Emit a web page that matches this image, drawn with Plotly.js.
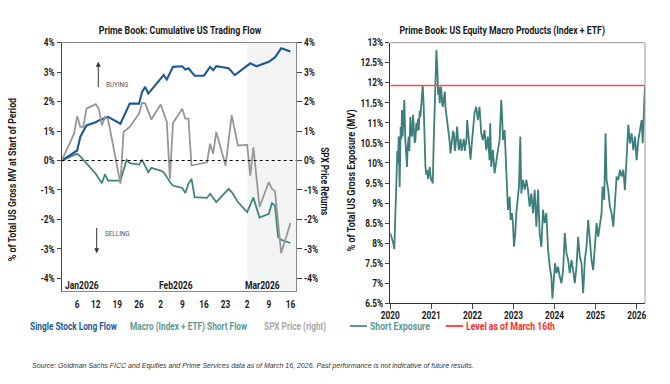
<!DOCTYPE html>
<html><head><meta charset="utf-8">
<script src="https://cdn.plot.ly/plotly-3.0.1.min.js"></script>
<style>html,body{margin:0;padding:0;background:#fff}#chart{width:670px;height:384px}</style>
</head><body><div id="chart"></div>
<script>
// ---------- Left chart: cumulative US trading flow (%) ----------
const blueDates = ['2026-01-01','2026-01-06','2026-01-07','2026-01-09','2026-01-12','2026-01-13','2026-01-16','2026-01-20','2026-01-23','2026-01-26','2026-01-27','2026-01-28','2026-01-29','2026-02-02','2026-02-03','2026-02-04','2026-02-06','2026-02-09','2026-02-10','2026-02-11','2026-02-13','2026-02-16','2026-02-18','2026-02-19','2026-02-20','2026-02-24','2026-02-26','2026-03-03','2026-03-05','2026-03-09','2026-03-11','2026-03-13','2026-03-16'];
const blueVals  = [0,0.34,0.8,1.19,1.3,1.36,1.48,1.25,1.93,1.93,2.33,2.5,2.27,2.8,2.9,2.75,3.18,3.2,3.09,3.13,2.88,2.88,3.18,3.07,3.2,3.13,2.9,3.3,3.2,3.35,3.5,3.81,3.7];

const tealDates = ['2026-01-01','2026-01-06','2026-01-07','2026-01-09','2026-01-12','2026-01-14','2026-01-15','2026-01-16','2026-01-20','2026-01-22','2026-01-23','2026-01-26','2026-01-27','2026-01-29','2026-01-30','2026-02-02','2026-02-03','2026-02-05','2026-02-06','2026-02-09','2026-02-10','2026-02-11','2026-02-12','2026-02-13','2026-02-17','2026-02-18','2026-02-20','2026-02-24','2026-02-25','2026-02-27','2026-03-02','2026-03-04','2026-03-06','2026-03-09','2026-03-10','2026-03-11','2026-03-12','2026-03-13','2026-03-16'];
const tealVals  = [0,0.23,0.14,-0.11,-0.45,-0.77,-0.47,-0.68,-0.68,0.02,-0.09,-0.14,0.02,-0.4,-0.25,-0.34,-0.4,-0.73,-0.85,-0.93,-1.1,-0.79,-0.62,-1.24,-1.27,-1.13,-1.41,-0.96,-1.07,-1.41,-1.75,-1.26,-1.94,-1.81,-1.45,-1.53,-2.6,-2.69,-2.8];

const grayDates = ['2026-01-01','2026-01-05','2026-01-06','2026-01-07','2026-01-08','2026-01-09','2026-01-12','2026-01-13','2026-01-14','2026-01-15','2026-01-16','2026-01-20','2026-01-21','2026-01-23','2026-01-26','2026-01-27','2026-01-28','2026-01-30','2026-02-02','2026-02-04','2026-02-05','2026-02-06','2026-02-09','2026-02-10','2026-02-11','2026-02-12','2026-02-17','2026-02-18','2026-02-19','2026-02-20','2026-02-23','2026-02-25','2026-02-27','2026-03-02','2026-03-03','2026-03-04','2026-03-06','2026-03-09','2026-03-10','2026-03-11','2026-03-13','2026-03-16'];
const grayVals  = [0,0.91,1.5,1.14,1.14,1.76,1.91,1.76,1.19,1.48,1.4,-0.79,0.97,1.14,1.59,1.96,1.94,1.39,1.9,1.31,-0.62,1.27,1.76,1.42,1.42,-0.17,-0.06,0.57,0.23,0.97,-0.17,1.54,0.51,0.53,-0.51,0.45,-1.58,-0.73,-0.96,-1.04,-3.15,-2.12];

const leftTickVals  = ['2026-01-06','2026-01-12','2026-01-19','2026-01-26','2026-02-02','2026-02-09','2026-02-16','2026-02-23','2026-03-02','2026-03-09','2026-03-16'];
const leftTickText  = ['6','12','19','26','2','9','16','23','2','9','16'];
const monthLabels   = ['Jan2026','Feb2026','Mar2026'];
const monthDates    = ['2026-01-01','2026-02-01','2026-03-01'];
const pctVals = [-4,-3,-2,-1,0,1,2,3,4];
const pctText = ['-4%','-3%','-2%','-1%','0%','1%','2%','3%','4%'];
const shadeStart = '2026-03-02';

// ---------- Right chart: short exposure (%), x in decimal years ----------
const shortYears = [2020.000,2020.041,2020.073,2020.098,2020.122,2020.147,2020.171,2020.187,2020.204,2020.228,2020.252,2020.269,2020.285,2020.301,2020.318,2020.342,2020.366,2020.383,2020.407,2020.423,2020.448,2020.464,2020.488,2020.513,2020.529,2020.554,2020.570,2020.594,2020.611,2020.635,2020.651,2020.676,2020.692,2020.716,2020.733,2020.757,2020.773,2020.790,2020.814,2020.839,2020.855,2020.879,2020.896,2020.920,2020.936,2020.961,2020.977,2021.001,2021.018,2021.034,2021.058,2021.083,2021.099,2021.123,2021.148,2021.164,2021.180,2021.205,2021.229,2021.245,2021.262,2021.278,2021.303,2021.327,2021.343,2021.368,2021.384,2021.408,2021.425,2021.449,2021.465,2021.490,2021.506,2021.530,2021.547,2021.571,2021.587,2021.612,2021.628,2021.653,2021.669,2021.693,2021.710,2021.734,2021.750,2021.775,2021.791,2021.815,2021.832,2021.856,2021.872,2021.897,2021.913,2021.937,2021.954,2021.978,2021.994,2022.019,2022.035,2022.051,2022.092,2022.132,2022.173,2022.214,2022.255,2022.295,2022.336,2022.377,2022.417,2022.434,2022.458,2022.499,2022.540,2022.580,2022.621,2022.662,2022.702,2022.727,2022.743,2022.784,2022.825,2022.865,2022.906,2022.930,2022.963,2022.987,2023.012,2023.044,2023.069,2023.109,2023.134,2023.166,2023.191,2023.231,2023.272,2023.313,2023.353,2023.394,2023.435,2023.476,2023.516,2023.557,2023.598,2023.638,2023.679,2023.720,2023.760,2023.801,2023.842,2023.883,2023.923,2023.948,2023.980,2024.013,2024.046,2024.086,2024.127,2024.168,2024.209,2024.249,2024.290,2024.331,2024.371,2024.412,2024.453,2024.493,2024.534,2024.575,2024.615,2024.656,2024.697,2024.738,2024.778,2024.819,2024.860,2024.900,2024.941,2024.982,2025.023,2025.063,2025.104,2025.145,2025.169,2025.210,2025.242,2025.267,2025.307,2025.348,2025.389,2025.430,2025.470,2025.511,2025.552,2025.592,2025.633,2025.674,2025.714,2025.755,2025.796,2025.836,2025.877,2025.918,2025.958,2025.999,2026.040,2026.081,2026.121,2026.146,2026.162,2026.187,2026.203];
const shortVals  = [8.25,8.12,8.0,7.85,8.83,9.6,10.3,10.0,10.66,9.4,10.9,10.6,11.32,10.66,11.0,11.57,10.57,10.2,9.9,10.4,10.66,10.3,11.15,10.7,10.66,11.2,10.99,10.5,10.57,11.0,10.8,11.1,10.82,11.3,11.15,11.5,11.57,11.94,11.4,10.32,9.9,9.7,9.83,9.6,9.74,9.9,9.7,9.55,9.58,9.49,10.57,11.57,11.99,12.82,12.32,11.7,11.9,11.49,11.9,11.82,11.5,11.4,11.6,11.78,11.4,11.2,11.07,10.9,10.82,10.5,10.24,10.5,10.6,10.8,10.74,10.3,10.41,10.7,10.91,10.5,10.32,10.5,10.6,10.3,10.41,10.55,10.6,10.3,10.4,10.6,11.07,10.8,10.6,10.3,10.08,10.4,10.6,10.8,10.99,11.24,11.4,11.07,11.4,10.74,10.57,10.82,10.32,10.66,10.07,10.99,9.9,10.32,9.74,10.07,10.32,10.57,11.57,11.07,10.57,10.82,9.58,8.83,9.16,8.58,8.75,8.5,7.91,8.25,8.75,9.08,9.41,10.66,9.24,9.58,9.33,9.58,9.33,8.91,9.24,8.75,9.33,8.41,9.33,8.25,7.91,8.83,8.5,8.75,7.83,7.41,7.16,6.62,7.16,7.5,7.25,7.41,7.16,7.0,7.33,8.25,7.75,7.58,7.25,7.58,7.33,7.0,7.41,8.16,7.66,7.5,6.75,7.58,7.91,8.58,8.08,7.58,7.33,7.91,8.5,8.16,8.5,8.75,9.41,9.08,10.74,9.58,9.33,8.91,8.75,8.41,8.99,9.66,9.58,9.83,9.66,9.83,9.33,10.32,10.95,10.49,10.74,10.32,10.66,10.07,10.57,10.82,11.07,10.49,11.15,11.57,11.93];
const levelValue = 11.93;
const levelYears = [2020, 2026.203];
const yearTicks = [2020,2021,2022,2023,2024,2025,2026];
const yearText  = ['2020','2021','2022','2023','2024','2025','2026'];
const expVals = [6.5,7,7.5,8,8.5,9,9.5,10,10.5,11,11.5,12,12.5,13];
const expText = ['6.5%','7%','7.5%','8%','8.5%','9%','9.5%','10%','10.5%','11%','11.5%','12%','12.5%','13%'];

// ---------- styling ----------
const W=670, H=384;
const px = x => x/W, py = y => 1 - y/H;
const FONT = 'Roboto, "Liberation Sans", sans-serif';
const SQUEEZE = 0.79;   // horizontal squeeze to imitate a condensed face
const BLUE='#1f5a98', TEAL='#3c7f7c', GRAY='#979797', RED='#ff4d4d', DARK='#1a1a1a';
const bold = (size, color) => ({family:FONT, size:size, color:color||DARK, weight:700});

const traces = [
  {x:grayDates, y:grayVals, xaxis:'x', yaxis:'y2', mode:'lines', line:{color:GRAY, width:1.8}, hoverinfo:'skip'},
  {x:tealDates, y:tealVals, xaxis:'x', yaxis:'y', mode:'lines', line:{color:'#3f8482', width:1.8}, hoverinfo:'skip'},
  {x:blueDates, y:blueVals, xaxis:'x', yaxis:'y', mode:'lines', line:{color:BLUE, width:2.1}, hoverinfo:'skip'},
  {x:shortYears, y:shortVals, xaxis:'x2', yaxis:'y3', mode:'lines', line:{color:TEAL, width:1.8}, hoverinfo:'skip'},
  {x:levelYears, y:[levelValue, levelValue], xaxis:'x2', yaxis:'y3', mode:'lines', line:{color:RED, width:1.5}, hoverinfo:'skip'}
];

const leftRange = ['2026-01-01','2026-03-17 19:00'];
const layout = {
  width:W, height:H, margin:{l:0,r:0,t:0,b:0}, showlegend:false,
  paper_bgcolor:'#fff', plot_bgcolor:'rgba(0,0,0,0)',
  font:{family:FONT, size:10, color:DARK},
  xaxis:{domain:[px(61.7), px(296)], anchor:'y', type:'date', range:leftRange,
    tickmode:'array', tickvals:leftTickVals, ticktext:leftTickText, ticks:'', tickfont:bold(10.5), ticklabelstandoff:4,
    showline:true, linecolor:'#8a8a8a', linewidth:1, mirror:true, showgrid:false, zeroline:false},
  yaxis:{domain:[py(290.7), py(42.7)], anchor:'x', range:[-4.42,4], tickmode:'array', tickvals:pctVals, ticktext:pctText,
    ticks:'outside', ticklen:4, tickcolor:'#444', tickfont:bold(10.5), showline:true, linecolor:'#444', linewidth:1,
    showgrid:false, zeroline:false},
  yaxis2:{overlaying:'y', side:'right', anchor:'x', range:[-4.42,4], tickmode:'array', tickvals:pctVals, ticktext:pctText,
    ticks:'outside', ticklen:5, tickcolor:'#444', tickfont:bold(10.5), showline:true, linecolor:'#8a8a8a', linewidth:1,
    showgrid:false, zeroline:false},
  xaxis2:{domain:[px(390.3), px(645)], anchor:'y3', type:'linear', range:[2020, 2026.203],
    tickmode:'array', tickvals:yearTicks, ticktext:yearText, ticks:'outside', ticklen:5, tickcolor:'#444',
    tickfont:bold(10.5), ticklabelstandoff:-3, showline:true, linecolor:'#333', linewidth:1, showgrid:false, zeroline:false},
  yaxis3:{domain:[py(303.3), py(42.7)], anchor:'x2', range:[6.5,13], tickmode:'array', tickvals:expVals, ticktext:expText,
    ticks:'outside', ticklen:4, tickcolor:'#444', tickfont:bold(10.5), showline:true, linecolor:'#333', linewidth:1,
    showgrid:false, zeroline:false},
  shapes:[
    {type:'rect', xref:'x', yref:'y domain', x0:shadeStart, x1:leftRange[1], y0:0, y1:1, fillcolor:'#f2f4f4', line:{width:0}, layer:'below'},
    {type:'line', xref:'x domain', yref:'y', x0:0, x1:1, y0:0, y1:0, line:{color:'#000', width:1, dash:'3px,3px'}},
    {type:'line', xref:'paper', yref:'paper', x0:px(390.3), x1:px(645), y0:py(42.7), y1:py(42.7), line:{color:'#9a9a9a', width:1}},
    {type:'line', xref:'paper', yref:'paper', x0:px(645), x1:px(645), y0:py(42.7), y1:py(303.3), line:{color:'#9a9a9a', width:1}},
    {type:'line', xref:'paper', yref:'paper', x0:px(350), x1:px(367), y0:py(326), y1:py(326), line:{color:'#5c9a96', width:2}},
    {type:'line', xref:'paper', yref:'paper', x0:px(446), x1:px(463), y0:py(326), y1:py(326), line:{color:RED, width:2}}
  ],
  annotations:[]
};

const A = layout.annotations;
const txt = (x, y, text, font, opts) => A.push(Object.assign({xref:'paper', yref:'paper', x:px(x), y:py(y), text:text, showarrow:false, font:font, xanchor:'left', yanchor:'middle'}, opts||{}));

txt(180, 30, 'Prime Book: Cumulative US Trading Flow', bold(11.2), {xanchor:'center'});
txt(502, 30, 'Prime Book: US Equity Macro Products (Index + ETF)', bold(11), {xanchor:'center'});
txt(12, 180, '% of Total US Gross MV at Start of Period', bold(11.2), {xanchor:'center', textangle:-90});
txt(325, 181, 'SPX Price Returns', bold(10.5), {xanchor:'center', textangle:90});
txt(351.5, 180, '% of Total US Gross Exposure (MV)', bold(11.5), {xanchor:'center', textangle:-90});

monthLabels.forEach((m,i) => A.push({xref:'x', yref:'paper', x:monthDates[i], y:py(285), text:m, showarrow:false,
  font:bold(10.8), xanchor:'left', yanchor:'middle', xshift: i===0 ? 1 : -1}));

// buying / selling arrows
A.push({xref:'paper', yref:'paper', x:px(98.3), y:py(61.7), ax:0, ay:27, text:'', showarrow:true, arrowhead:2, arrowsize:1, arrowwidth:1, arrowcolor:'#333'});
A.push({xref:'paper', yref:'paper', x:px(96.7), y:py(253.3), ax:0, ay:-27, text:'', showarrow:true, arrowhead:2, arrowsize:1, arrowwidth:1, arrowcolor:'#333'});
txt(104, 84, 'BUYING', {family:FONT, size:8, color:'#555'});
txt(102.5, 233.5, 'SELLING', {family:FONT, size:8, color:'#555'});

// legends
txt(28, 326, 'Single Stock Long Flow', bold(10.5, BLUE));
txt(128, 326, 'Macro (Index + ETF) Short Flow', bold(10.5, '#5c9a96'));
txt(262, 326, 'SPX Price (right)', bold(10.5, '#a8a8a8'));
txt(368, 326, 'Short Exposure', bold(11, '#5c9a96'));
txt(464, 326, 'Level as of March 16th', bold(11, '#ff2a2a'));

const SOURCE = 'Source: Goldman Sachs FICC and Equities and Prime Services data as of March 16, 2026. Past performance is not indicative of future results.';
txt(30, 366, SOURCE, {family:'"Liberation Sans", Arial, sans-serif', size:7, color:'#333', style:'italic'});

function condense(gd){
  gd.querySelectorAll('g.xtick text, g.ytick text, g.x2tick text, g.y2tick text, g.y3tick text').forEach(t => {
    const x = parseFloat(t.getAttribute('x')) || 0;
    const tr = t.getAttribute('transform') || '';
    t.setAttribute('transform', tr + ' translate(' + x + ',0) scale(' + SQUEEZE + ',1) translate(' + (-x) + ',0)');
  });
  gd.querySelectorAll('g.annotation').forEach(g => {
    const i = +g.getAttribute('data-index');
    const ann = layout.annotations[i];
    if (!ann || !ann.text || ann.text === SOURCE) return;
    const t = g.querySelector('text.annotation-text');
    if (!t) return;
    const bb = t.getBBox();
    const cx = ann.xanchor === 'left' ? bb.x : (ann.xanchor === 'right' ? bb.x + bb.width : bb.x + bb.width/2);
    const tr = t.getAttribute('transform') || '';
    t.setAttribute('transform', tr + ' translate(' + cx + ',0) scale(' + SQUEEZE + ',1) translate(' + (-cx) + ',0)');
  });
}

Plotly.newPlot('chart', traces, layout, {displayModeBar:false, staticPlot:true}).then(condense);
</script></body></html>
